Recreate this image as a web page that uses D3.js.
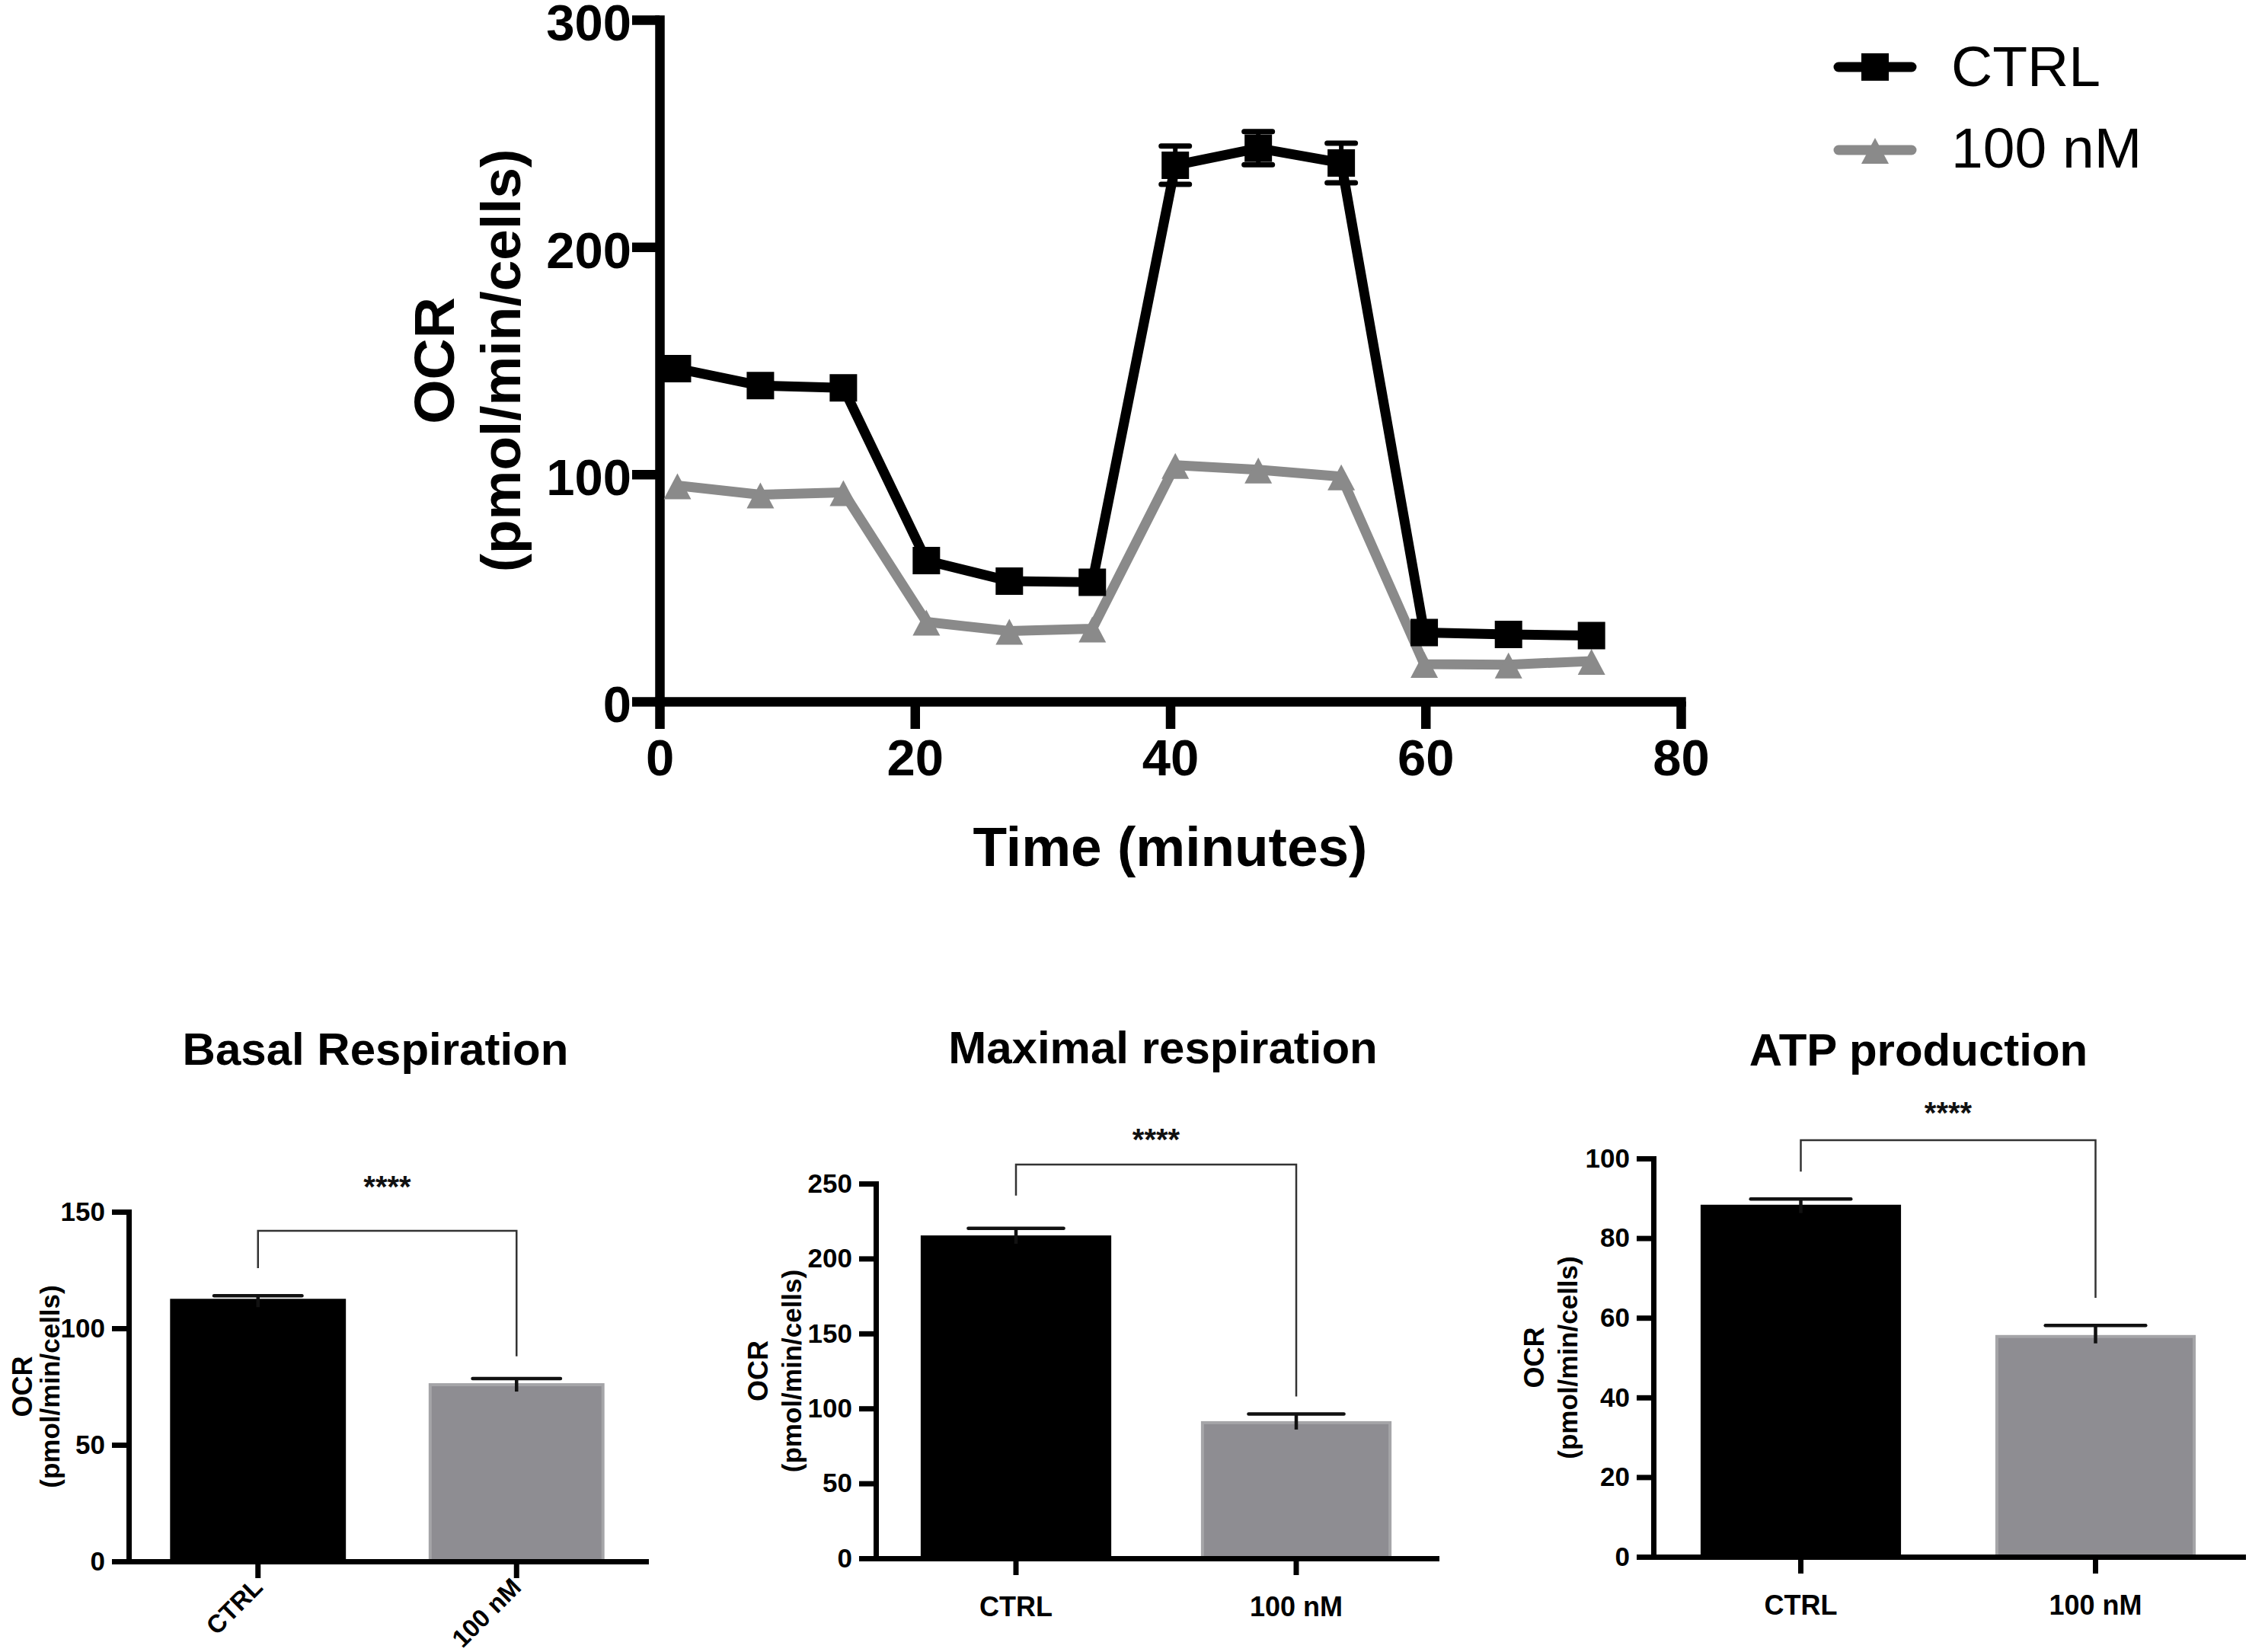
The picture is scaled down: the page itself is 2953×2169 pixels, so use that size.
<!DOCTYPE html>
<html>
<head>
<meta charset="utf-8">
<script src="https://cdn.jsdelivr.net/npm/d3@7"></script>
<style>
  body { margin: 0; background: #fff; }
  svg { display: block; }
  text { font-family: "Liberation Sans", Arial, Helvetica, sans-serif; }
</style>
</head>
<body>
<svg id="fig" width="2953" height="2169"></svg>
<script>
// ---- data ----
var timePoints = [1.4, 7.9, 14.4, 20.9, 27.4, 33.9, 40.4, 46.9, 53.4, 59.9, 66.5, 73.0];
var ctrlOCR = [146.5, 139, 138, 62, 53, 52.5, 236, 243.5, 237, 30.3, 29.5, 29];
var ctrlErr = [3, 2.5, 2.5, 2.5, 2, 2, 8.4, 7.3, 8.7, 2, 1.5, 1.5];
var nmOCR = [95, 91, 92, 35, 31, 32, 104, 102, 99, 16.4, 16.2, 17.8];
var nmErr = [2, 2, 2, 1.5, 1, 1, 2.5, 2.5, 2.5, 1, 1, 1];
var timeTicks = [0, 20, 40, 60, 80];
var ocrTicks = [0, 100, 200, 300];
var seriesNames = ["CTRL", "100 nM"];

var groups = ["CTRL", "100 nM"];
var panelTitles = ["Basal Respiration", "Maximal respiration", "ATP production"];
var basalMeans = [112, 75.8];
var basalSem = [2, 2.6];
var maximalMeans = [214.4, 90.5];
var maximalSem = [5.7, 5.8];
var atpMeans = [88, 55.3];
var atpSem = [1.8, 2.8];
var basalTicks = [0, 50, 100, 150];
var maximalTicks = [0, 50, 100, 150, 200, 250];
var atpTicks = [0, 20, 40, 60, 80, 100];
// bracket: [top, left leg end, right leg end] in OCR units
var basalBracket = [141.8, 125.8, 88];
var maximalBracket = [262.7, 242, 108];
var atpBracket = [104.6, 96.7, 65];
var signif = "****";

var BLACK = "#000";
var GREY = "#8a8a8a";
var FONT_BOLD = "bold";
var MARK_HALF = 18;

var svg = d3.select("#fig");
svg.append("rect").attr("width", 2953).attr("height", 2169).attr("fill", "#fff");

// ================= kinetic trace =================
var x = d3.scaleLinear().domain([0, 80]).range([866, 2207]);
var y = d3.scaleLinear().domain([0, 300]).range([921, 26]);

var kin = svg.append("g").attr("class", "kinetics");

function styleAxis(g, width, fontSize) {
  g.select(".domain").attr("stroke", BLACK).attr("stroke-width", width).attr("stroke-linecap", "square");
  g.selectAll(".tick line").attr("stroke", BLACK).attr("stroke-width", width);
  g.selectAll(".tick text").attr("fill", BLACK).attr("font-size", fontSize).attr("font-weight", FONT_BOLD)
    .attr("font-family", '"Liberation Sans", Arial, sans-serif');
}

var yAxisG = kin.append("g").attr("transform", "translate(866,0)")
  .call(d3.axisLeft(y).tickValues(ocrTicks).tickSize(36).tickSizeOuter(0).tickPadding(1));
styleAxis(yAxisG, 12.5, 67);
yAxisG.selectAll(".tick text").attr("dy", "0.4em");

var xAxisG = kin.append("g").attr("transform", "translate(0,921)")
  .call(d3.axisBottom(x).tickValues(timeTicks).tickSize(36).tickSizeOuter(0).tickPadding(13));
styleAxis(xAxisG, 12.5, 67);

kin.append("text")
  .attr("x", (x.range()[0] + x.range()[1]) / 2).attr("y", 1137)
  .attr("text-anchor", "middle").attr("font-size", 73).attr("font-weight", FONT_BOLD)
  .text("Time (minutes)");

var yMid = (y.range()[0] + y.range()[1]) / 2;
kin.append("text")
  .attr("transform", "translate(596," + yMid + ") rotate(-90)")
  .attr("text-anchor", "middle").attr("font-size", 75).attr("font-weight", FONT_BOLD)
  .text("OCR");
kin.append("text")
  .attr("transform", "translate(683," + yMid + ") rotate(-90)")
  .attr("text-anchor", "middle").attr("font-size", 73).attr("font-weight", FONT_BOLD)
  .text("(pmol/min/cells)");

function markerPath(shape) {
  if (shape === "square") return "M-18,-18H18V18H-18Z";
  return "M0,-16L18,18H-18Z";
}

function drawSeries(g, values, errs, color, shape) {
  var pts = timePoints.map(function (t, i) { return { t: t, v: values[i], e: errs[i] }; });
  g.append("path").datum(pts)
    .attr("d", d3.line().x(function (d) { return x(d.t); }).y(function (d) { return y(d.v); }))
    .attr("fill", "none").attr("stroke", color).attr("stroke-width", 13)
    .attr("stroke-linejoin", "round").attr("stroke-linecap", "round");

  // like Prism: error bars shorter than the symbol are not shown
  var shown = pts.filter(function (d) { return y(d.v) - y(d.v + d.e) > MARK_HALF; });
  var eb = g.selectAll(null).data(shown).enter().append("g")
    .attr("transform", function (d) { return "translate(" + x(d.t) + ",0)"; });
  eb.append("line")
    .attr("y1", function (d) { return y(d.v - d.e); })
    .attr("y2", function (d) { return y(d.v + d.e); })
    .attr("stroke", color).attr("stroke-width", 6);
  [1, -1].forEach(function (s) {
    eb.append("line")
      .attr("x1", -18.5).attr("x2", 18.5)
      .attr("y1", function (d) { return y(d.v + s * d.e); })
      .attr("y2", function (d) { return y(d.v + s * d.e); })
      .attr("stroke", color).attr("stroke-width", 7).attr("stroke-linecap", "round");
  });

  g.selectAll(null).data(pts).enter().append("path")
    .attr("d", markerPath(shape))
    .attr("transform", function (d) { return "translate(" + x(d.t) + "," + y(d.v) + ")"; })
    .attr("fill", color);
}

drawSeries(kin.append("g"), nmOCR, nmErr, GREY, "triangle");
drawSeries(kin.append("g"), ctrlOCR, ctrlErr, BLACK, "square");

// legend
var legend = kin.append("g").attr("class", "legend");
var legendRows = [
  { name: seriesNames[0], color: BLACK, shape: "square", cy: 88, base: 113 },
  { name: seriesNames[1], color: GREY, shape: "triangle", cy: 197, base: 220 }
];
legendRows.forEach(function (r) {
  legend.append("line").attr("x1", 2414).attr("x2", 2510).attr("y1", r.cy).attr("y2", r.cy)
    .attr("stroke", r.color).attr("stroke-width", 13).attr("stroke-linecap", "round");
  legend.append("path").attr("d", markerPath(r.shape))
    .attr("transform", "translate(2462," + r.cy + ")").attr("fill", r.color);
  legend.append("text").attr("x", 2562).attr("y", r.base)
    .attr("font-size", 75).attr("fill", BLACK).text(r.name);
});

// ================= bar panels =================
var barFill = ["#000", "#8e8d92"];
var barStroke = ["#000", "#a5a5a8"];

var panels = [
  { title: panelTitles[0], means: basalMeans, sem: basalSem, ticks: basalTicks, bracket: basalBracket,
    x0: 169, x1: 848, y0: 2050, yTop: 1591, titleX: 493, titleY: 1398, starY: 1572,
    rotate: true, lab: [-127, -91] },
  { title: panelTitles[1], means: maximalMeans, sem: maximalSem, ticks: maximalTicks, bracket: maximalBracket,
    x0: 1150, x1: 1886, y0: 2046, yTop: 1554, titleX: 1527, titleY: 1396, starY: 1510,
    rotate: false, lab: [-142, -98] },
  { title: panelTitles[2], means: atpMeans, sem: atpSem, ticks: atpTicks, bracket: atpBracket,
    x0: 2171, x1: 2945, y0: 2044, yTop: 1521, titleX: 2519, titleY: 1399, starY: 1475,
    rotate: false, lab: [-144, -100] }
];

function drawPanel(p) {
  var g = svg.append("g").attr("class", "panel");
  var ys = d3.scaleLinear().domain([0, p.ticks[p.ticks.length - 1]]).range([p.y0, p.yTop]);
  var xb = d3.scaleBand().domain(groups).range([p.x0, p.x1]).paddingInner(0.32).paddingOuter(0.16);
  var bw = xb.bandwidth();
  var cx = function (k) { return xb(k) + bw / 2; };

  g.append("text").attr("x", p.titleX).attr("y", p.titleY).attr("text-anchor", "middle")
    .attr("font-size", 60).attr("font-weight", FONT_BOLD).text(p.title);

  // bars
  g.selectAll(null).data(groups).enter().append("rect")
    .attr("x", function (k) { return xb(k) + 2; })
    .attr("width", bw - 4)
    .attr("y", function (k, i) { return ys(p.means[i]); })
    .attr("height", function (k, i) { return p.y0 - ys(p.means[i]); })
    .attr("fill", function (k, i) { return barFill[i]; })
    .attr("stroke", function (k, i) { return barStroke[i]; })
    .attr("stroke-width", 4);

  // SEM bars (upper only)
  g.selectAll(null).data(groups).enter().append("line")
    .attr("x1", cx).attr("x2", cx)
    .attr("y1", function (k, i) { return ys(p.means[i]) + 9; })
    .attr("y2", function (k, i) { return ys(p.means[i] + p.sem[i]); })
    .attr("stroke", "#111").attr("stroke-width", 4.5);
  g.selectAll(null).data(groups).enter().append("line")
    .attr("x1", function (k) { return cx(k) - bw / 4; })
    .attr("x2", function (k) { return cx(k) + bw / 4; })
    .attr("y1", function (k, i) { return ys(p.means[i] + p.sem[i]); })
    .attr("y2", function (k, i) { return ys(p.means[i] + p.sem[i]); })
    .attr("stroke", "#111").attr("stroke-width", 4.5).attr("stroke-linecap", "round");

  // axes
  var ya = g.append("g").attr("transform", "translate(" + p.x0 + ",0)")
    .call(d3.axisLeft(ys).tickValues(p.ticks).tickSize(22).tickSizeOuter(0).tickPadding(9));
  styleAxis(ya, 7, 35);

  var xa = g.append("g").attr("transform", "translate(0," + p.y0 + ")")
    .call(d3.axisBottom(xb).tickSize(22).tickSizeOuter(0).tickPadding(28));
  styleAxis(xa, 7, 36);
  if (p.rotate) {
    xa.selectAll(".tick text")
      .attr("y", 0).attr("dy", 0).attr("text-anchor", "end").attr("font-size", 33)
      .attr("transform", "translate(8,36) rotate(-45)");
  }

  var ym = (p.y0 + p.yTop) / 2;
  g.append("text").attr("transform", "translate(" + (p.x0 + p.lab[0]) + "," + ym + ") rotate(-90)")
    .attr("text-anchor", "middle").attr("font-size", 36).attr("font-weight", FONT_BOLD).text("OCR");
  g.append("text").attr("transform", "translate(" + (p.x0 + p.lab[1]) + "," + ym + ") rotate(-90)")
    .attr("text-anchor", "middle").attr("font-size", 35).attr("font-weight", FONT_BOLD).text("(pmol/min/cells)");

  // significance bracket
  var bx0 = cx(groups[0]), bx1 = cx(groups[1]);
  var br = d3.path();
  br.moveTo(bx0, ys(p.bracket[1]));
  br.lineTo(bx0, ys(p.bracket[0]));
  br.lineTo(bx1, ys(p.bracket[0]));
  br.lineTo(bx1, ys(p.bracket[2]));
  g.append("path").attr("d", br.toString()).attr("fill", "none")
    .attr("stroke", "#333").attr("stroke-width", 2.5);
  g.append("text").attr("x", (bx0 + bx1) / 2).attr("y", p.starY).attr("text-anchor", "middle")
    .attr("font-size", 40).attr("font-weight", FONT_BOLD).attr("fill", "#111").text(signif);
}

panels.forEach(drawPanel);
</script>
</body>
</html>
